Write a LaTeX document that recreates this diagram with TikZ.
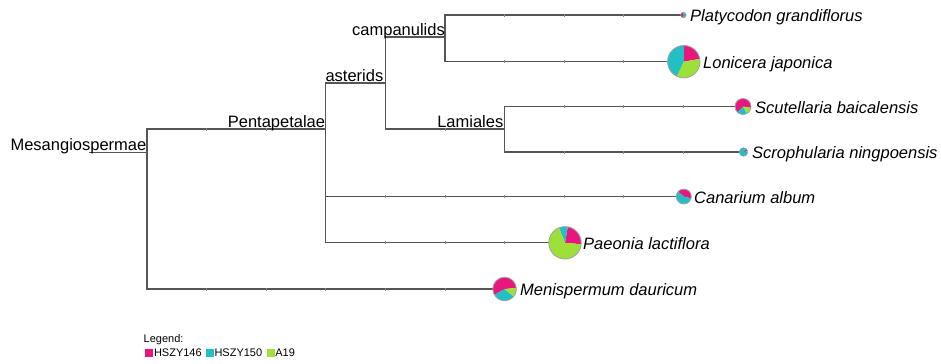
\documentclass[tikz,border=0pt]{standalone}
\usepackage{fontspec}
\setmainfont{Liberation Sans}
\definecolor{cmag}{HTML}{E8177D}
\definecolor{ccyan}{HTML}{22C0C4}
\definecolor{cgrn}{HTML}{9DE03A}
\definecolor{treegray}{HTML}{555555}
\definecolor{tickgray}{HTML}{8A8A8A}
\definecolor{piegray}{HTML}{A0A0A0}
\begin{document}
\begin{tikzpicture}[x=1bp,y=1bp,
  edge/.style={draw=treegray, line width=1.1bp, line cap=rect},
  tickmark/.style={draw=tickgray, line width=0.7bp},
  clade/.style={anchor=base east, inner sep=0pt, font=\fontsize{16.5bp}{18bp}\selectfont},
  tip/.style={anchor=base west, inner sep=0pt, font=\fontsize{16.5bp}{18bp}\selectfont\itshape},
  pieb/.style={draw=piegray, line width=0.8bp},
  legtext/.style={anchor=base west, inner sep=0pt, font=\fontsize{11bp}{13bp}\selectfont},
  sq/.style={draw=none, inner sep=0pt, minimum size=8bp}]
\useasboundingbox (0,0) rectangle (941,-363);

% internal nodes
\coordinate (rootbase) at (90,-152.5);
\coordinate (R) at (147,-152.5);
\coordinate (Rtop) at (147,-129);
\coordinate (Rbot) at (147,-289);
\coordinate (P) at (325.8,-129);
\coordinate (Ptop) at (325.8,-83);
\coordinate (Pbot) at (325.8,-242.8);
\coordinate (A) at (385.4,-83);
\coordinate (Atop) at (385.4,-37);
\coordinate (Abot) at (385.4,-129);
\coordinate (C) at (445,-37);
\coordinate (Ctop) at (445,-15);
\coordinate (Cbot) at (445,-61.7);
\coordinate (L) at (504.6,-129);
\coordinate (Ltop) at (504.6,-106.5);
\coordinate (Lbot) at (504.6,-152);
% tips
\coordinate (t1) at (683.4,-15);
\coordinate (t2) at (683.8,-61.7);
\coordinate (t3) at (743,-106.5);
\coordinate (t4) at (743.5,-152);
\coordinate (t5) at (683.8,-196.5);
\coordinate (t6) at (565,-242.8);
\coordinate (t7) at (504.6,-289);

% edges
\draw[edge] (rootbase) -- (R);
\draw[edge] (Rtop) -- (Rbot);
\draw[edge] (Rtop) -- (P);
\draw[edge] (Rbot) -- (t7);
\draw[edge] (Ptop) -- (Pbot);
\draw[edge] (Ptop) -- (A);
\draw[edge] (P |- t5) -- (t5);
\draw[edge] (Pbot) -- (t6);
\draw[edge] (Atop) -- (Abot);
\draw[edge] (Atop) -- (C);
\draw[edge] (Abot) -- (L);
\draw[edge] (Ctop) -- (Cbot);
\draw[edge] (Ctop) -- (t1);
\draw[edge] (Cbot) -- (t2);
\draw[edge] (Ltop) -- (Lbot);
\draw[edge] (Ltop) -- (t3);
\draw[edge] (Lbot) -- (t4);

% ticks
\foreach \k in {1,2} \draw[tickmark] ({147+59.6*\k},-127.5) -- ++(0,-3);
\foreach \k in {1,...,5} \draw[tickmark] ({147+59.6*\k},-287.5) -- ++(0,-3);
\foreach \k in {4,...,8} \draw[tickmark] ({147+59.6*\k},-195) -- ++(0,-3);
\foreach \k in {4,5,6} \draw[tickmark] ({147+59.6*\k},-241.3) -- ++(0,-3);
\foreach \k in {6,7,8} \draw[tickmark] ({147+59.6*\k},-13.5) -- ++(0,-3);
\foreach \k in {6,7,8} \draw[tickmark] ({147+59.6*\k},-60.2) -- ++(0,-3);
\foreach \k in {7,8,9} \draw[tickmark] ({147+59.6*\k},-105) -- ++(0,-3);
\foreach \k in {7,8,9} \draw[tickmark] ({147+59.6*\k},-150.5) -- ++(0,-3);
\draw[tickmark] ({147+59.6*5},-127.5) -- ++(0,-3);

% pies
\foreach \c/\s/\e in {cmag/90/270, ccyan/270/450}
  \fill[\c] (t1) -- ++(\s:2.8bp) arc[start angle=\s, end angle=\e, radius=2.8bp] -- cycle;
\draw[pieb, line width=0.5bp] (t1) circle[radius=2.8bp];
\foreach \c/\s/\e in {cmag/10/90, ccyan/90/245, cgrn/245/370}
  \fill[\c] (t2) -- ++(\s:16.2bp) arc[start angle=\s, end angle=\e, radius=16.2bp] -- cycle;
\draw[pieb] (t2) circle[radius=16.2bp];
\foreach \c/\s/\e in {cmag/-10/225, ccyan/225/300, cgrn/300/350}
  \fill[\c] (t3) -- ++(\s:8bp) arc[start angle=\s, end angle=\e, radius=8bp] -- cycle;
\draw[pieb] (t3) circle[radius=8bp];
\foreach \c/\s/\e in {cmag/10/50, ccyan/50/370}
  \fill[\c] (t4) -- ++(\s:4.3bp) arc[start angle=\s, end angle=\e, radius=4.3bp] -- cycle;
\draw[pieb, line width=0.6bp] (t4) circle[radius=4.3bp];
\foreach \c/\s/\e in {cmag/-15/140, ccyan/140/345}
  \fill[\c] (t5) -- ++(\s:7.5bp) arc[start angle=\s, end angle=\e, radius=7.5bp] -- cycle;
\draw[pieb] (t5) circle[radius=7.5bp];
\foreach \c/\s/\e in {cmag/-5/80, ccyan/80/112, cgrn/112/355}
  \fill[\c] (t6) -- ++(\s:16.2bp) arc[start angle=\s, end angle=\e, radius=16.2bp] -- cycle;
\draw[pieb] (t6) circle[radius=16.2bp];
\foreach \c/\s/\e in {cmag/5/210, ccyan/210/320, cgrn/320/365}
  \fill[\c] (t7) -- ++(\s:11.8bp) arc[start angle=\s, end angle=\e, radius=11.8bp] -- cycle;
\draw[pieb] (t7) circle[radius=11.8bp];

% clade labels
\node[clade] (lMes) at (146.5,-150.3) {Mesangiospermae};
\node[clade] (lPen) at (325.3,-127) {Pentapetalae};
\node[clade] (lAst) at (383.5,-81.3) {asterids};
\node[clade] (lCam) at (445,-35.3) {campanulids};
\node[clade] (lLam) at (503.5,-127.3) {Lamiales};

% tip labels
\node[tip] (n1) at (690,-21.5) {Platycodon grandiflorus};
\node[tip] (n2) at (703,-68.2) {Lonicera japonica};
\node[tip] (n3) at (755,-113) {Scutellaria baicalensis};
\node[tip] (n4) at (752,-158.5) {Scrophularia ningpoensis};
\node[tip] (n5) at (694,-203) {Canarium album};
\node[tip] (n6) at (583,-249.3) {Paeonia lactiflora};
\node[tip] (n7) at (520,-295.5) {Menispermum dauricum};

% legend
\node[legtext] (lg) at (143.5,-342) {Legend:};
\node[sq, fill=cmag] (s1) at (149,-352.5) {};
\node[legtext] (g1) at (153.8,-356.3) {HSZY146};
\node[sq, fill=ccyan] (s2) at (209.6,-352.5) {};
\node[legtext] (g2) at (214.3,-356.3) {HSZY150};
\node[sq, fill=cgrn] (s3) at (270.6,-352.5) {};
\node[legtext] (g3) at (275.2,-356.3) {A19};
\end{tikzpicture}
\end{document}
